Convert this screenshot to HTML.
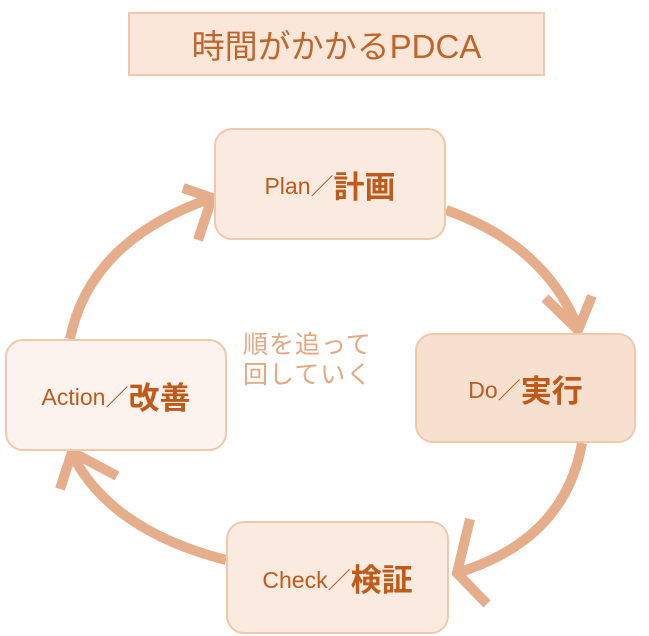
<!DOCTYPE html>
<html><head><meta charset="utf-8"><style>
body{margin:0;width:649px;height:636px;background:#fff;overflow:hidden;position:relative;font-family:"Liberation Sans","Noto Sans CJK JP",sans-serif}
.b{position:absolute;box-sizing:border-box;border:2px solid #f0c8ac;border-radius:18px;display:flex;align-items:center;justify-content:center;color:#bf5a1a;font-size:23px;white-space:nowrap}
.b b{font-size:31px;font-weight:bold}
</style></head><body>
<svg width="649" height="636" style="position:absolute;left:0;top:0">
<g fill="none" stroke="#e6ad8a" stroke-width="10" stroke-linecap="butt">
<path d="M446,210 Q545,245 578,328"/>
<path d="M545,298 L578,330 L592,296"/>
<path d="M582,443 Q565,540 457,573"/>
<path d="M470,519 L457,573 L487,604"/>
<path d="M226,560 Q110,530 72,454"/>
<path d="M60,489 L72,452 L117,476"/>
<path d="M70,339 Q90,240 212,198"/>
<path d="M183,188 L212,198 L198,240"/>
</g>
</svg>
<div class="b" style="left:128px;top:12px;width:417px;height:64px;border-radius:0;background:#fbe7da;font-size:33px;color:#c0652a">時間がかかるPDCA</div>
<div class="b" style="left:214px;top:128px;width:232px;height:112px;background:#fbeadf">Plan／<b>計画</b></div>
<div class="b" style="left:415px;top:333px;width:221px;height:110px;background:#f8e0d0">Do／<b>実行</b></div>
<div class="b" style="left:226px;top:521px;width:223px;height:113px;background:#faeadf">Check／<b>検証</b></div>
<div class="b" style="left:5px;top:339px;width:222px;height:112px;background:#fdf3ee">Action／<b>改善</b></div>
<div style="position:absolute;left:243px;top:330px;font-size:25px;line-height:30px;color:#e3a882;letter-spacing:1px">順を追って<br>回していく</div>
</body></html>
